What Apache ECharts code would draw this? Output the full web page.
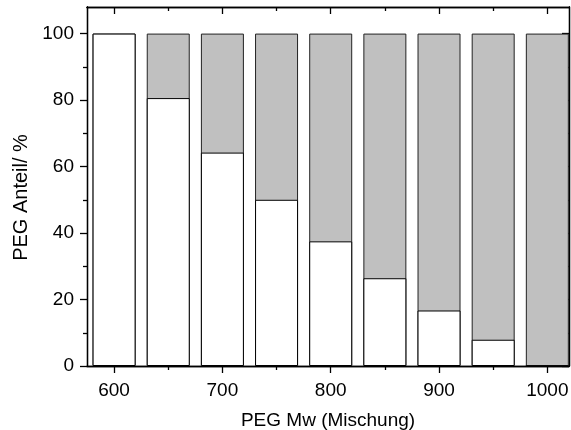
<!DOCTYPE html>
<html><head><meta charset="utf-8">
<script src="https://cdn.jsdelivr.net/npm/echarts@6/dist/echarts.min.js"></script>
<style>html,body{margin:0;padding:0;background:#fff}#c{width:571px;height:430px}</style>
</head><body><div id="c"></div>
<script>
const mw = [600, 650, 700, 750, 800, 850, 900, 950, 1000];
const whitePart = [100, 80.6, 64.2, 50, 37.5, 26.4, 16.7, 7.9, 0];
const grayPart = [0, 19.4, 35.8, 50, 62.5, 73.6, 83.3, 92.1, 100];
const xMajor = [600, 700, 800, 900, 1000];
const xMinor = [650, 750, 850, 950];
const yMajor = [0, 20, 40, 60, 80, 100];
const yMinor = [10, 30, 50, 70, 90];

const FONT = '"Liberation Sans", Arial, sans-serif';
const FS = 19;
const lineStyle = {color: '#000', width: 1.3};
function xAx(pos, vals, len, inside, labels, name) {
  return {
    type: 'value', position: pos, min: 575, max: 1020, gridIndex: 0,
    axisLine: {show: true, onZero: false, lineStyle},
    axisTick: {show: true, inside, length: len, customValues: vals, lineStyle},
    axisLabel: labels ? {show: true, customValues: vals, formatter: v => String(v), fontSize: FS, fontFamily: FONT, color: '#000', margin: 15} : {show: false},
    splitLine: {show: false},
    name: name || '', nameLocation: 'middle', nameGap: 45,
    nameTextStyle: {fontSize: FS, fontFamily: FONT, color: '#000'}
  };
}
function yAx(pos, vals, len, inside, labels, name) {
  return {
    type: 'value', position: pos, min: 0, max: 108,
    axisLine: {show: true, onZero: false, lineStyle},
    axisTick: {show: true, inside, length: len, customValues: vals, lineStyle},
    axisLabel: labels ? {show: true, customValues: vals, formatter: v => String(v), fontSize: FS, fontFamily: FONT, color: '#000', margin: 13} : {show: false},
    splitLine: {show: false},
    name: name || '', nameLocation: 'middle', nameGap: 52,
    nameTextStyle: {fontSize: 20, fontFamily: FONT, color: '#000', padding: [0, 22, 0, 0]}
  };
}
const chart = echarts.init(document.getElementById('c'), null, {renderer: 'canvas'});
chart.setOption({
  animation: false,
  backgroundColor: '#fff',
  grid: {left: 87, top: 7, right: 2, bottom: 64, containLabel: false, outerBoundsMode: 'none'},
  xAxis: [
    xAx('bottom', xMajor, 7, false, true, 'PEG Mw (Mischung)'),
    xAx('bottom', xMinor, 4, false, false),
    xAx('top', xMajor, 7, true, false),
    xAx('top', xMinor, 4, true, false)
  ],
  yAxis: [
    yAx('left', yMajor, 7, false, true, 'PEG Anteil/ %'),
    yAx('left', yMinor, 4, false, false),
    yAx('right', yMajor, 7, true, false),
    yAx('right', yMinor, 4, true, false)
  ],
  series: [
    {
      type: 'bar', barWidth: 43, barGap: '-100%', xAxisIndex: 0, yAxisIndex: 0, z: 2,
      data: mw.map((m, i) => [m, whitePart[i] + grayPart[i]]),
      itemStyle: {color: '#c0c0c0', borderColor: '#222', borderWidth: 1}
    },
    {
      type: 'bar', barWidth: 43, barGap: '-100%', xAxisIndex: 0, yAxisIndex: 0, z: 3,
      data: mw.map((m, i) => [m, whitePart[i]]),
      itemStyle: {color: '#fff', borderColor: '#000', borderWidth: 1}
    }
  ]
});
</script></body></html>
